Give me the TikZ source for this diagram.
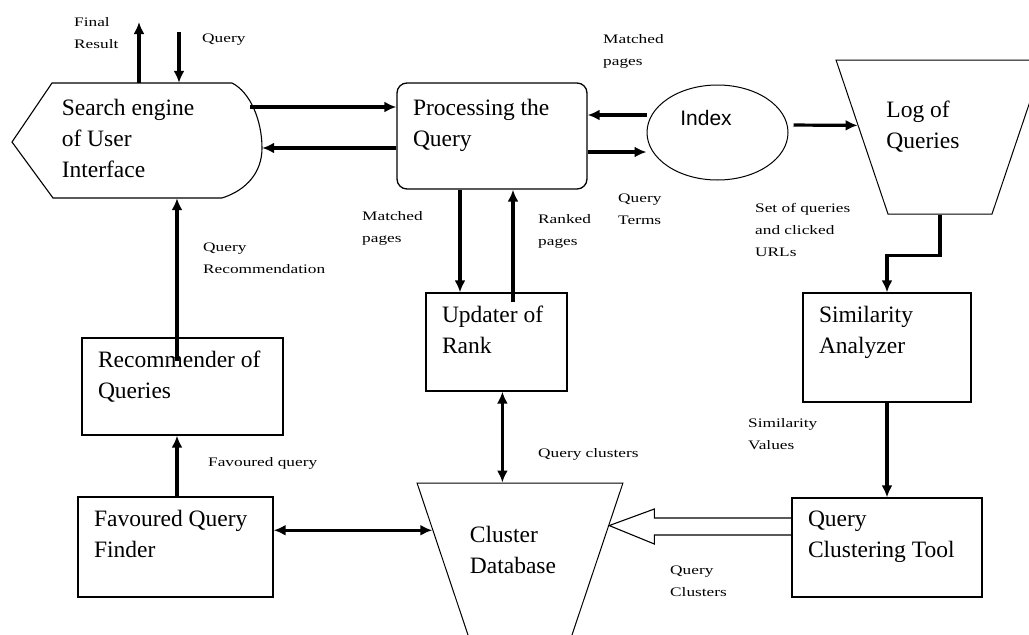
\documentclass[tikz,border=0pt]{standalone}
\usepackage{fontspec}
\setmainfont{Liberation Serif}
\newfontfamily\idxfont{Liberation Sans}
\usepackage{graphicx}
\usetikzlibrary{arrows.meta,shapes.geometric,positioning}

\newcommand{\mainfnt}{\fontsize{23.5}{31}\selectfont}
\newcommand{\blktxt}[3]{\parbox[c][#2pt][t]{#1pt}{\raggedright\leftskip=16pt\vspace*{13pt}#3}}
\newcommand{\lbltxt}[1]{\scalebox{1.33}[1]{\begin{tabular}{@{}l@{}}#1\end{tabular}}}

\begin{document}
\begin{tikzpicture}[x=1pt,y=-1pt,>={Latex[length=12pt,width=11pt]},
    blk/.style={draw,line width=1.3pt,inner sep=0pt,font=\mainfnt},
    trap/.style={draw,line width=1pt,trapezium,shape border rotate=180,trapezium stretches=true,inner sep=3pt},
    lbl/.style={anchor=west,inner sep=0pt,font=\fontsize{13}{22}\selectfont},
    conn/.style={line width=3.2pt},
    hollow/.style={line width=1.1pt}]

    \useasboundingbox (0,0) rectangle (1029,635);
    \fill[white] (0,0) rectangle (1029,635);

    % user interface, drawn as a pointed shape
    \node[minimum width=250,minimum height=115,inner sep=0pt,
        label={[font=\mainfnt,align=left,xshift=-9pt,yshift=2pt]center:Search engine\\of User\\Interface}] (search) at (137,140.5) {};
    \draw[line width=1.1pt] (52,83) -- (232,83) .. controls (250,92) and (262,120) .. (262,148)
        .. controls (262,172) and (247,190) .. (222,198) -- (53,198) -- (12,142) -- cycle;

    \path
    (492,136)   node[blk,rounded corners=10pt] (proc) {\blktxt{190}{106}{\vspace*{3pt}Processing the\\Query}}
    (717.5,132.5) node[draw,ellipse,line width=1pt,minimum width=141,minimum height=95,
        label={[font=\idxfont\fontsize{21}{24}\selectfont,xshift=-11.5pt,yshift=14.5pt]center:Index}] (index) {}
    (940,137)   node[trap,minimum width=208,minimum height=154,trapezium left angle=63.43,trapezium right angle=63.43,
        label={[font=\mainfnt,align=left,xshift=-17pt,yshift=10.5pt]center:Log of\\Queries}] (log) {}
    (496.5,342) node[blk] (rank) {\blktxt{141}{98}{Updater of\\Rank}}
    (182.5,386.5) node[blk] (rec) {\blktxt{201}{97}{Recommender of\\Queries}}
    (175.5,547) node[blk] (fav) {\blktxt{195}{100}{Favoured Query\\Finder}}
    (887,347.5) node[blk] (sim) {\blktxt{168}{109}{Similarity\\Analyzer}}
    (887,547.5) node[blk] (qct) {\blktxt{190}{99}{Query\\Clustering Tool}}
    (520,573)   node[trap,minimum width=206,minimum height=180,trapezium left angle=54.67,trapezium right angle=54.67,
        label={[font=\mainfnt,align=left,xshift=-7pt,yshift=23pt]center:Cluster\\Database}] (cdb) {};

    \coordinate (fres) at (139,22);
    \coordinate (qry) at (179,32);
    \coordinate (hbase) at ([xshift=-137pt]qct.west);

    % connectors
    \draw[conn,->] (search.north -| fres) -- (fres);
    \draw[conn,->] (qry) -- (search.north -| qry);
    \draw[conn,->,shorten <=-12pt] (search.east |- 0,107) -- (proc.west |- 0,107);
    \draw[conn,->] (proc.west |- 0,148) -- (search.east |- 0,148);
    \draw[conn,->] (index.west |- 0,115) -- (proc.east |- 0,115);
    \draw[conn,->] (proc.east |- 0,152) -- (index.west |- 0,152);
    \draw[conn,->,shorten <=5pt] (index.east |- 0,125) -- (log.172);
    \draw[conn,->] (log.270) -- ++(0,41) -| (sim.north);
    \draw[conn,->] (proc.south -| 460,0) -- (rank.north -| 460,0);
    \draw[conn,->,shorten <=-10pt] (rank.north -| 513,0) -- (proc.south -| 513,0);
    \draw[conn,<->] (rank.south -| cdb.101) -- (cdb.101);
    \draw[conn,->,shorten <=-24pt] (rec.north -| 177,0) -- (search.south -| 177,0);
    \draw[conn,->] (fav.north -| 177,0) -- (rec.south -| 177,0);
    \draw[conn,<->] (fav.east |- cdb.154) -- (cdb.154);
    \draw[conn,->] (sim.south) -- (qct.north);
    \draw[hollow] (qct.west |- 0,518) -- (hbase |- 0,518) -- (hbase |- 0,509) -- (cdb.28)
        -- (hbase |- 0,544) -- (hbase |- 0,535) -- (qct.west |- 0,535);

    % labels
    \path
    (74,33.5)   node[lbl] (lres) {\lbltxt{Final\\Result}}
    (202,38)    node[lbl] (lqry) {\lbltxt{Query}}
    (603,50)    node[lbl] (lmatch) {\lbltxt{Matched\\pages}}
    (618,209.5) node[lbl] (lterms) {\lbltxt{Query\\Terms}}
    (755,230)   node[lbl] (lset) {\lbltxt{Set of queries\\and clicked\\URLs}}
    (362,227.5) node[lbl] (lmatchb) {\lbltxt{Matched\\pages}}
    (538,230)   node[lbl] (lranked) {\lbltxt{Ranked\\pages}}
    (203,258.5) node[lbl] (lrecom) {\lbltxt{Query\\Recommendation}}
    (208,462)   node[lbl] (lfav) {\lbltxt{Favoured query}}
    (538,453)   node[lbl] (lclus) {\lbltxt{Query clusters}}
    (748,434)   node[lbl] (lsim) {\lbltxt{Similarity\\Values}}
    (670,581.5) node[lbl] (lclusb) {\lbltxt{Query\\Clusters}};

\end{tikzpicture}
\end{document}
